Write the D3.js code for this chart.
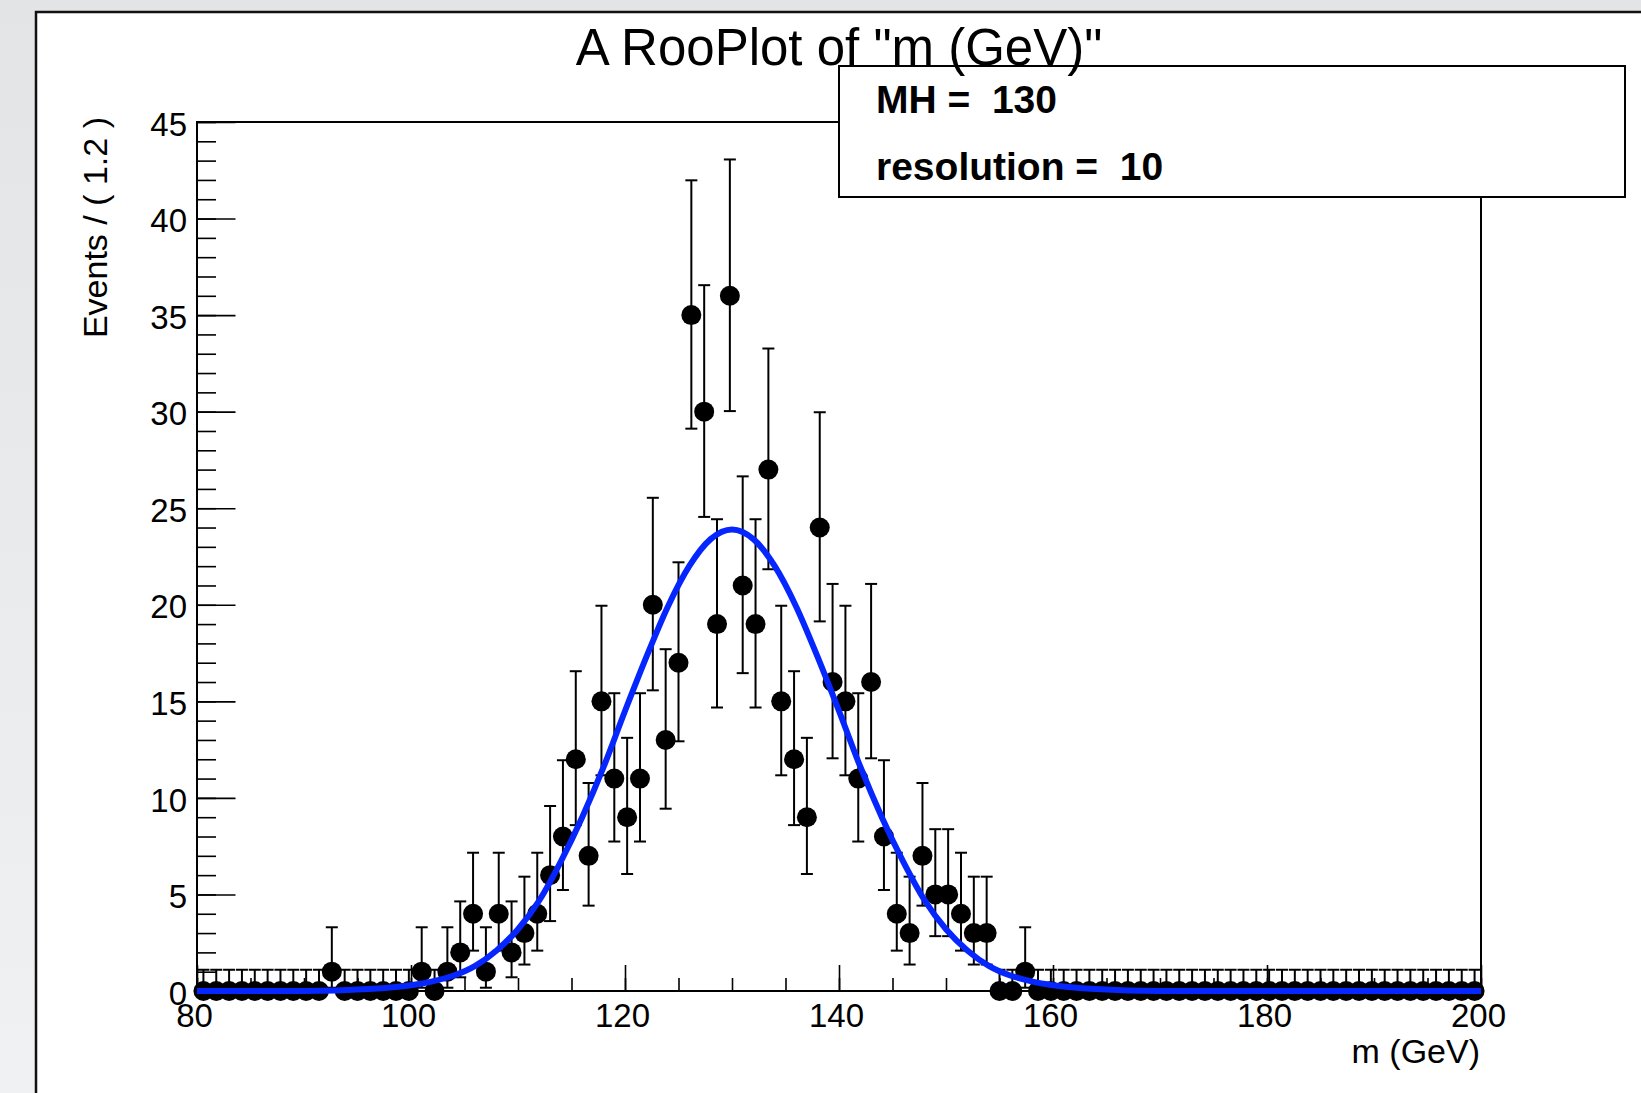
<!DOCTYPE html>
<html>
<head>
<meta charset="utf-8">
<script src="https://cdn.jsdelivr.net/npm/d3@7"></script>
<style>
  html, body { margin: 0; padding: 0; background: #e8e9eb; }
  svg { display: block; font-family: "Liberation Sans", Arial, Helvetica, sans-serif; }
  .axis text { font-size: 33px; fill: #000; }
  .axis line { stroke: #000; stroke-width: 1.6; }
  .axis path { display: none; }
</style>
</head>
<body>
<script>
// histogram: 100 bins of 1.2 GeV between 80 and 200
const xRange = [80, 200]
const yRange = [0, 45]
const binWidth = 1.2

const counts = [
  0, 0, 0, 0, 0, 0, 0, 0, 0, 0,
  1, 0, 0, 0, 0, 0, 0, 1, 0, 1,
  2, 4, 1, 4, 2, 3, 4, 6, 8, 12,
  7, 15, 11, 9, 11, 20, 13, 17, 35, 30,
  19, 36, 21, 19, 27, 15, 12, 9, 24, 16,
  15, 11, 16, 8, 4, 3, 7, 5, 5, 4,
  3, 3, 0, 0, 1, 0, 0, 0, 0, 0,
  0, 0, 0, 0, 0, 0, 0, 0, 0, 0,
  0, 0, 0, 0, 0, 0, 0, 0, 0, 0,
  0, 0, 0, 0, 0, 0, 0, 0, 0, 0
]

// poisson 68% interval for the counts that occur
const poissonLo = {0: 0, 1: 0.17, 2: 0.71, 3: 1.37, 4: 2.09, 5: 2.84, 6: 3.62, 7: 4.42, 8: 5.23,
  9: 6.06, 11: 7.74, 12: 8.59, 13: 9.44, 15: 11.17, 16: 12.05, 17: 12.93, 19: 14.68, 20: 15.57,
  21: 16.46, 24: 19.14, 27: 21.84, 30: 24.55, 35: 29.12, 36: 30.03}
const poissonHi = {0: 1.1, 1: 3.3, 2: 4.64, 3: 5.92, 4: 7.16, 5: 8.38, 6: 9.58, 7: 10.77, 8: 11.95,
  9: 13.11, 11: 15.42, 12: 16.56, 13: 17.7, 15: 19.95, 16: 21.08, 17: 22.2, 19: 24.43, 20: 25.54,
  21: 26.65, 24: 29.97, 27: 33.27, 30: 36.55, 35: 41.98, 36: 43.06}

// fitted gaussian
const curveX = [80, 90, 96, 100, 102, 104, 106, 108, 110, 112, 114, 116, 118, 120, 122, 124, 126, 128,
  130, 132, 134, 136, 138, 140, 142, 144, 146, 148, 150, 152, 154, 156, 158, 160, 164, 170, 200]
const curveY = [0, 0, 0.1, 0.3, 0.5, 0.8, 1.3, 2.1, 3.2, 4.7, 6.7, 9.0, 11.6, 14.5, 17.3, 19.9, 22.0, 23.4,
  23.9, 23.4, 22.0, 19.9, 17.3, 14.5, 11.6, 9.0, 6.7, 4.7, 3.2, 2.1, 1.3, 0.8, 0.5, 0.3, 0.1, 0, 0]

const xMajor = [80, 100, 120, 140, 160, 180, 200]
const xMinor = d3.range(80, 201, 5)
const yMajor = [0, 5, 10, 15, 20, 25, 30, 35, 40, 45]
const yMinor = d3.range(0, 46, 1)

const statLines = ['MH =  130', 'resolution =  10']

const W = 1641, H = 1093
const padLeft = 197, padRight = 1481, padTop = 122, padBottom = 991

const svg = d3.select('body').append('svg')
  .attr('width', W)
  .attr('height', H)

const grad = svg.append('defs').append('linearGradient')
  .attr('id', 'bg').attr('x1', 0).attr('y1', 0).attr('x2', 0).attr('y2', 1)
grad.append('stop').attr('offset', 0).attr('stop-color', '#e3e4e6')
grad.append('stop').attr('offset', 1).attr('stop-color', '#f0f1f2')

svg.append('rect').attr('width', W).attr('height', H).attr('fill', 'url(#bg)')

// canvas
svg.append('rect')
  .attr('x', 36).attr('y', 12)
  .attr('width', W).attr('height', H)
  .attr('fill', '#fff')
svg.append('path')
  .attr('d', `M36,${H} V12 H${W}`)
  .attr('fill', 'none').attr('stroke', '#111').attr('stroke-width', 2.5)

const x = d3.scaleLinear().domain(xRange).range([padLeft, padRight])
const y = d3.scaleLinear().domain(yRange).range([padBottom, padTop])

// frame
svg.append('rect')
  .attr('x', padLeft).attr('y', padTop)
  .attr('width', padRight - padLeft).attr('height', padBottom - padTop)
  .attr('fill', 'none').attr('stroke', '#000').attr('stroke-width', 2)

// axes, ticks point inward like ROOT
svg.append('g').attr('class', 'axis')
  .attr('transform', `translate(0,${padBottom})`)
  .call(d3.axisBottom(x).tickValues(xMinor).tickFormat('').tickSizeInner(-13).tickSizeOuter(0))
svg.append('g').attr('class', 'axis')
  .attr('transform', `translate(0,${padBottom})`)
  .call(d3.axisBottom(x).tickValues(xMajor).tickFormat(d3.format('d'))
    .tickSizeInner(-26).tickSizeOuter(0).tickPadding(13))
  .selectAll('text').attr('dx', -3)

svg.append('g').attr('class', 'axis')
  .attr('transform', `translate(${padLeft},0)`)
  .call(d3.axisLeft(y).tickValues(yMinor).tickFormat('').tickSizeInner(-19).tickSizeOuter(0))
svg.append('g').attr('class', 'axis')
  .attr('transform', `translate(${padLeft},0)`)
  .call(d3.axisLeft(y).tickValues(yMajor).tickFormat(d3.format('d'))
    .tickSizeInner(-38.5).tickSizeOuter(0).tickPadding(10))
  .selectAll('text').attr('dy', '0.4em')

svg.append('text')
  .attr('transform', `translate(107,${padTop - 5}) rotate(-90)`)
  .attr('text-anchor', 'end')
  .style('font-size', '34px')
  .text('Events / ( 1.2 )')

svg.append('text')
  .attr('x', padRight - 1).attr('y', 1063)
  .attr('text-anchor', 'end')
  .style('font-size', '34px')
  .text('m (GeV)')

// data points with poisson error bars
const bins = counts.map((n, i) => ({
  m: xRange[0] + binWidth * (i + 0.5),
  n: n,
  lo: poissonLo[n],
  hi: poissonHi[n]
}))

const pts = svg.append('g')
  .selectAll('g')
  .data(bins)
  .enter()
  .append('g')

pts.append('line')
  .attr('x1', d => x(d.m)).attr('x2', d => x(d.m))
  .attr('y1', d => y(d.lo)).attr('y2', d => y(d.hi))
  .attr('stroke', '#000').attr('stroke-width', 2)
pts.append('line')
  .attr('x1', d => x(d.m) - 6).attr('x2', d => x(d.m) + 6)
  .attr('y1', d => y(d.hi)).attr('y2', d => y(d.hi))
  .attr('stroke', '#000').attr('stroke-width', 2)
pts.append('line')
  .attr('x1', d => x(d.m) - 6).attr('x2', d => x(d.m) + 6)
  .attr('y1', d => y(d.lo)).attr('y2', d => y(d.lo))
  .attr('stroke', '#000').attr('stroke-width', 2)
pts.append('circle')
  .attr('cx', d => x(d.m))
  .attr('cy', d => y(d.n))
  .attr('r', 10)
  .attr('fill', '#000')

// fit curve
const line = d3.line()
  .x(d => x(d[0]))
  .y(d => y(d[1]))
  .curve(d3.curveMonotoneX)

svg.append('path')
  .datum(curveX.map((m, i) => [m, curveY[i]]))
  .attr('d', line)
  .attr('fill', 'none')
  .attr('stroke', '#0626ff')
  .attr('stroke-width', 6)

// parameter box
svg.append('rect')
  .attr('x', 839).attr('y', 66)
  .attr('width', 786).attr('height', 131)
  .attr('fill', '#fff').attr('stroke', '#000').attr('stroke-width', 2)

svg.append('g')
  .selectAll('text')
  .data(statLines)
  .enter()
  .append('text')
  .attr('x', 876)
  .attr('y', (d, i) => 113 + i * 67)
  .attr('xml:space', 'preserve')
  .style('white-space', 'pre')
  .style('font-size', '39px')
  .style('font-weight', 'bold')
  .text(d => d)

svg.append('text')
  .attr('x', 839).attr('y', 65)
  .attr('text-anchor', 'middle')
  .style('font-size', '51px')
  .text('A RooPlot of "m (GeV)"')
</script>
</body>
</html>
